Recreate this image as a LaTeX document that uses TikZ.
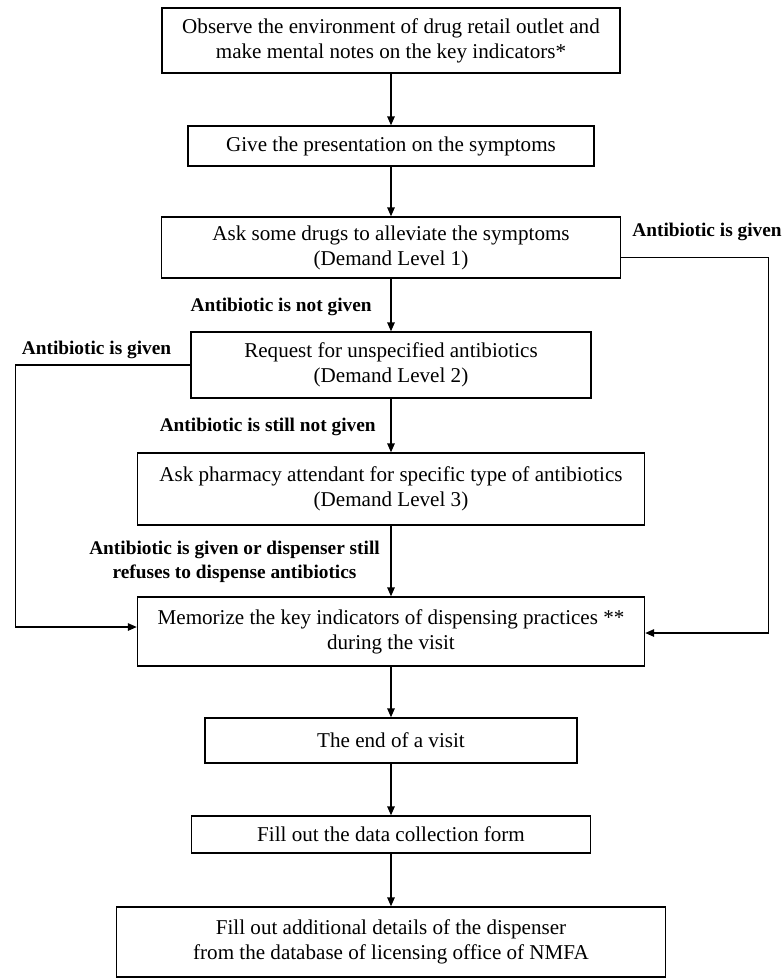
\documentclass[tikz,border=0pt]{standalone}
\usepackage{fontspec}
\setmainfont{Liberation Serif}
\usetikzlibrary{positioning,arrows.meta}

\begin{document}
\begin{tikzpicture}[
  font=\fontsize{12}{14.2}\selectfont,
  proc/.style={rectangle, draw=black, line width=0.8pt, inner sep=2pt, align=center, fill=white},
  lbl/.style={font=\fontsize{11}{13.7}\selectfont\bfseries, inner sep=0pt, align=center},
  flow/.style={-{Triangle[length=1.8mm,width=1.5mm]}, draw=black, line width=0.8pt}
]
\useasboundingbox (0,0) rectangle (15.66,-19.56);

\node[proc, minimum width=9.16cm, minimum height=1.30cm] (obs)  at (7.82,-0.81)  {Observe the environment of drug retail outlet and \\ make mental notes on the key indicators*};
\node[proc, minimum width=8.12cm, minimum height=0.80cm] (pres) at (7.82,-2.92)  {Give the presentation on the symptoms};
\node[proc, minimum width=9.18cm, minimum height=1.22cm] (lvl1) at (7.82,-4.95)  {Ask some drugs to alleviate the symptoms \\ (Demand Level 1)};
\node[proc, minimum width=8.00cm, minimum height=1.32cm] (lvl2) at (7.82,-7.30)  {Request for unspecified antibiotics \\ (Demand Level 2)};
\node[proc, minimum width=10.14cm, minimum height=1.44cm] (lvl3) at (7.82,-9.78) {Ask pharmacy attendant for specific type of antibiotics \\ (Demand Level 3)};
\node[proc, minimum width=10.14cm, minimum height=1.38cm] (memo) at (7.82,-12.63) {Memorize the key indicators of dispensing practices ** \\ during the visit};
\node[proc, minimum width=7.44cm, minimum height=0.90cm] (fin)  at (7.82,-14.81) {The end of a visit};
\node[proc, minimum width=7.98cm, minimum height=0.74cm] (form) at (7.82,-16.69) {Fill out the data collection form};
\node[proc, minimum width=10.98cm, minimum height=1.40cm] (nmfa) at (7.82,-18.84) {Fill out additional details of the dispenser \\ from the database of licensing office of NMFA};

% branch labels
\node[lbl, anchor=east] (gvn1) at (15.64,-4.64) {Antibiotic is given};
\node[lbl, anchor=east] (ngv)  at (7.44,-6.14)  {Antibiotic is not given};
\node[lbl]              (gvn2) at (1.93,-7.00)  {Antibiotic is given};
\node[lbl, anchor=east] (sng)  at (7.52,-8.54)  {Antibiotic is still not given};
\node[lbl]              (gvn3) at (4.69,-11.24) {Antibiotic is given or dispenser still \\ refuses to dispense antibiotics};

\draw[flow] (obs.south)  -- (pres.north);
\draw[flow] (pres.south) -- (lvl1.north);
\draw[flow] (lvl1.south) -- (lvl2.north);
\draw[flow] (lvl2.south) -- (lvl3.north);
\draw[flow] (lvl3.south) -- (memo.north);
\draw[flow] (memo.south) -- (fin.north);
\draw[flow] (fin.south)  -- (form.north);
\draw[flow] (form.south) -- (nmfa.north);

\draw[flow] ([yshift=-2mm]lvl1.east) -- ++(2.95,0) |- ([yshift=-0.3mm]memo.east);
\draw[flow] (lvl2.west) -- ++(-3.5,0) |- ([yshift=0.9mm]memo.west);
\end{tikzpicture}
\end{document}
